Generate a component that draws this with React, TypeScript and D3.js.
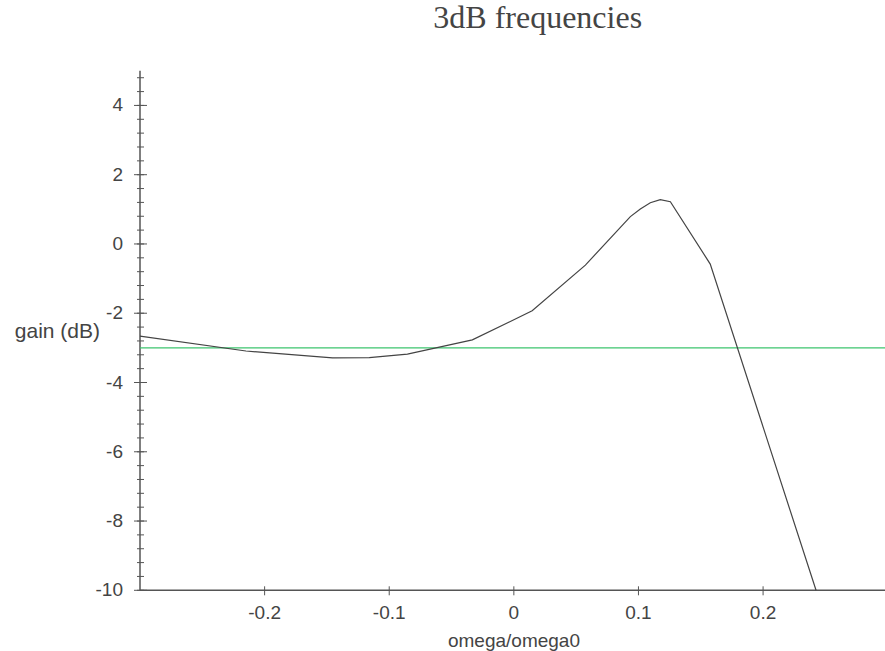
import React, { useEffect, useRef } from 'react';
import * as d3 from 'd3';

// gain curve: omega/omega0 vs gain (dB)
const omega = [-0.3, -0.215, -0.1455, -0.116, -0.0854, -0.0333, 0.0147, 0.0574, 0.0935, 0.1015, 0.1095, 0.1175, 0.1256, 0.1576, 0.2425];
const gain = [-2.66, -3.09, -3.29, -3.28, -3.18, -2.77, -1.93, -0.61, 0.79, 1.01, 1.19, 1.28, 1.22, -0.58, -10];

const level3dB = -3;
const xTicks = [-0.2, -0.1, 0, 0.1, 0.2];
const yTicks = [-10, -8, -6, -4, -2, 0, 2, 4];

// plain hyphen minus, like the original
const fmt = (d: number) => String(d);

const App = () => {
  const ref = useRef<SVGSVGElement>(null);

  useEffect(() => {
    const width = 885;
    const svg = d3.select(ref.current);
    svg.selectAll('*').remove();

    const x = d3.scaleLinear().domain([-0.3, 0.3]).range([140, 887.7]);
    const y = d3.scaleLinear().domain([-10, 5]).range([590.3, 70.8]);

    const axisColor = '#555';
    const textColor = '#444';
    const font = '"Liberation Sans", Arial, sans-serif';

    // title
    svg.append('text')
      .attr('x', 537.7)
      .attr('y', 28)
      .attr('text-anchor', 'middle')
      .attr('font-family', '"Liberation Serif", "Times New Roman", serif')
      .attr('font-size', 32)
      .attr('fill', textColor)
      .text('3dB frequencies');

    // y axis line
    svg.append('line')
      .attr('x1', x(-0.3)).attr('x2', x(-0.3))
      .attr('y1', y(-10)).attr('y2', y(5))
      .attr('stroke', axisColor).attr('stroke-width', 1.5);

    // minor y ticks every 0.4
    const minor = d3.range(0, 38).map(k => -10 + 0.4 * k);
    svg.selectAll('line.minor')
      .data(minor)
      .enter()
      .append('line')
      .attr('class', 'minor')
      .attr('x1', x(-0.3) - 3).attr('x2', x(-0.3) + 4)
      .attr('y1', d => y(d)).attr('y2', d => y(d))
      .attr('stroke', axisColor).attr('stroke-width', 1);

    // major y ticks
    svg.selectAll('line.ymajor')
      .data(yTicks)
      .enter()
      .append('line')
      .attr('class', 'ymajor')
      .attr('x1', x(-0.3) - 6).attr('x2', x(-0.3) + 7)
      .attr('y1', d => y(d)).attr('y2', d => y(d))
      .attr('stroke', axisColor).attr('stroke-width', 1);

    svg.selectAll('text.ylab')
      .data(yTicks)
      .enter()
      .append('text')
      .attr('class', 'ylab')
      .attr('x', 123)
      .attr('y', d => y(d) + 6)
      .attr('text-anchor', 'end')
      .attr('font-family', font)
      .attr('font-size', 19)
      .attr('fill', textColor)
      .text(d => fmt(d));

    // x axis line
    svg.append('line')
      .attr('x1', x(-0.3)).attr('x2', width)
      .attr('y1', y(-10)).attr('y2', y(-10))
      .attr('stroke', axisColor).attr('stroke-width', 1.5);

    svg.selectAll('line.xmajor')
      .data(xTicks)
      .enter()
      .append('line')
      .attr('class', 'xmajor')
      .attr('x1', d => x(d)).attr('x2', d => x(d))
      .attr('y1', y(-10) - 4).attr('y2', y(-10) + 5)
      .attr('stroke', axisColor).attr('stroke-width', 1);

    svg.selectAll('text.xlab')
      .data(xTicks)
      .enter()
      .append('text')
      .attr('class', 'xlab')
      .attr('x', d => x(d))
      .attr('y', 618.5)
      .attr('text-anchor', 'middle')
      .attr('font-family', font)
      .attr('font-size', 19)
      .attr('fill', textColor)
      .text(d => fmt(d));

    // axis titles
    svg.append('text')
      .attr('x', 514)
      .attr('y', 646.5)
      .attr('text-anchor', 'middle')
      .attr('font-family', font)
      .attr('font-size', 19)
      .attr('fill', textColor)
      .text('omega/omega0');

    svg.append('text')
      .attr('x', 100)
      .attr('y', 338)
      .attr('text-anchor', 'end')
      .attr('font-family', font)
      .attr('font-size', 21)
      .attr('fill', textColor)
      .text('gain (dB)');

    // -3 dB reference line
    svg.append('line')
      .attr('x1', x(-0.3)).attr('x2', width)
      .attr('y1', y(level3dB)).attr('y2', y(level3dB))
      .attr('stroke', '#3cc46e').attr('stroke-width', 1.3);

    // gain curve
    const line = d3.line<number>()
      .x((d, i) => x(omega[i]))
      .y(d => y(d));

    svg.append('path')
      .datum(gain)
      .attr('d', line)
      .attr('fill', 'none')
      .attr('stroke', '#444')
      .attr('stroke-width', 1.2);
  }, []);

  return (
    <div style={{ position: 'absolute', left: 0, top: 0 }}>
      <svg ref={ref} width={885} height={651} style={{ display: 'block', background: '#fff' }} />
    </div>
  );
};

export default App;
